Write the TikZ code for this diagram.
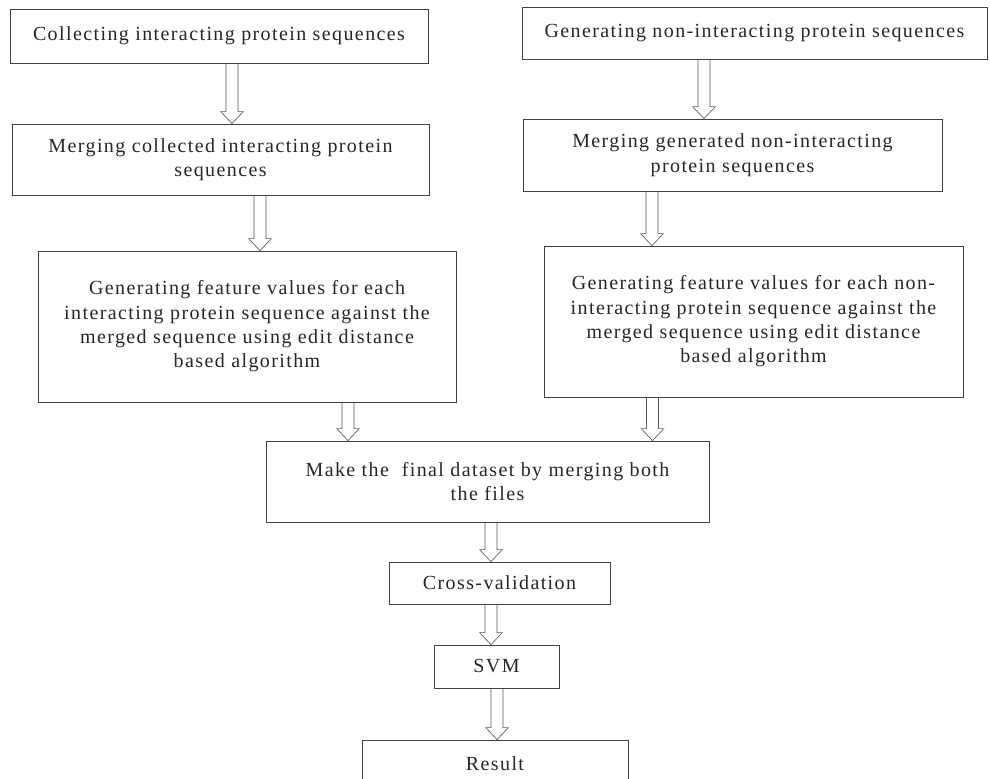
\documentclass[tikz,border=0pt]{standalone}
\usepackage{fontspec}
\setmainfont{Liberation Serif}[LetterSpace=7]
\usetikzlibrary{calc}

\tikzset{
  stepbox/.style={draw=black!75, line width=0.6pt, align=center, text=black!85,
    font=\fontsize{15}{18.3}\selectfont, inner sep=2pt},
  hollow/.style={draw=black!65, line width=0.5pt,
    to path={let \p1=(\tikztostart), \p2=(\tikztotarget) in
      (\x1-4.5pt,\y1) -- (\x1-4.5pt,\y2+9pt) -- (\x1-8.5pt,\y2+9pt) -- (\x1,\y2)
      -- (\x1+8.5pt,\y2+9pt) -- (\x1+4.5pt,\y2+9pt) -- (\x1+4.5pt,\y1)}}
}

\begin{document}
\begin{tikzpicture}[x=0.75pt,y=-0.75pt]
		\path[use as bounding box, clip] (0,0) rectangle (990,779);
		% left branch
		\node[stepbox, minimum width=313.5pt, minimum height=40.5pt] (collect) at (219,36) {Collecting interacting protein sequences};
		\node[stepbox, minimum width=312.75pt, minimum height=53.25pt] (mergeA) at (220.5,159.5) {Merging collected interacting protein\\sequences};
		\node[stepbox, minimum width=313.5pt, minimum height=113.25pt] (featA) at (247,326.5) {Generating feature values for each\\interacting protein sequence against the\\merged sequence using edit distance\\based algorithm};
		% right branch
		\node[stepbox, minimum width=348.75pt, minimum height=39pt] (generate) at (754.5,33) {Generating non-interacting protein sequences};
		\node[stepbox, minimum width=314.25pt, minimum height=54pt] (mergeB) at (732.5,155) {Merging generated non-interacting\\protein sequences};
		\node[stepbox, minimum width=314.25pt, minimum height=113.25pt] (featB) at (753.5,321.5) {Generating feature values for each non-\\interacting protein sequence against the\\merged sequence using edit distance\\based algorithm};
		% common part
		\node[stepbox, minimum width=332.25pt, minimum height=60.75pt] (final) at (487.5,481.5) {Make the\ \ final dataset by merging both\\the files};
		\node[stepbox, minimum width=165.75pt, minimum height=31.5pt] (cv) at (499.5,583) {Cross-validation};
		\node[stepbox, minimum width=93.75pt, minimum height=32.25pt] (svm) at (496.5,666.5) {SVM};
		\node[stepbox, minimum width=199.5pt, minimum height=36pt] (result) at (495,764) {Result};
		% arrows
		\draw[hollow] ([xshift=9.75pt]collect.south) to (mergeA.north);
		\draw[hollow] ([xshift=29.6pt]mergeA.south) to (featA.north);
		\draw[hollow] ([xshift=75.75pt]featA.south) to (final.north);
		\draw[hollow] ([xshift=-37.9pt]generate.south) to (mergeB.north);
		\draw[hollow] ([xshift=-60.4pt]mergeB.south) to (featB.north);
		\draw[hollow] ([xshift=-75.75pt]featB.south) to (final.north);
		\draw[hollow] ([xshift=2.6pt]final.south) to (cv.north);
		\draw[hollow] ([xshift=-6.4pt]cv.south) to (svm.north);
		\draw[hollow] ([xshift=0.4pt]svm.south) to (result.north);
\end{tikzpicture}
\end{document}
